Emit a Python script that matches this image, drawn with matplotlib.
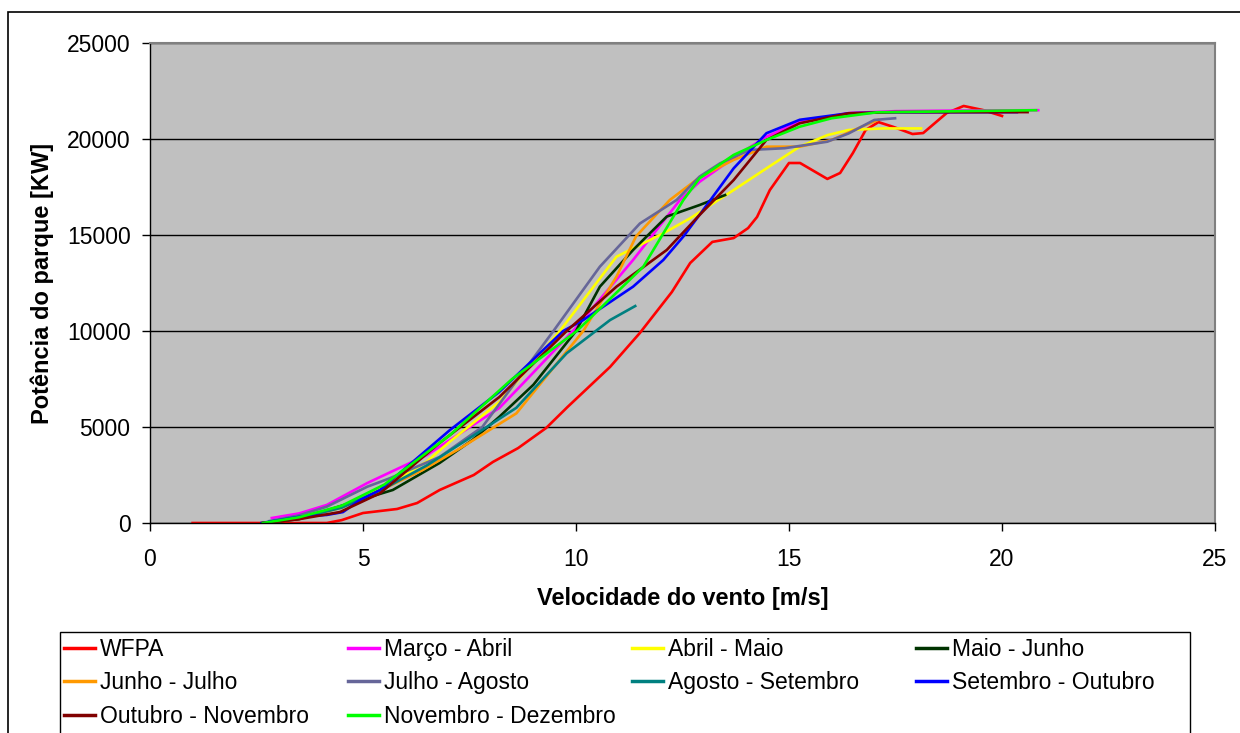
import matplotlib
matplotlib.use('Agg')
import matplotlib.pyplot as plt
from matplotlib.patches import Rectangle

plt.rcParams['font.family'] = ['Liberation Sans', 'DejaVu Sans']

# series: (label, colour, x values, y values)
wfpa_x = [1, 4.15, 4.5, 5.0, 5.8, 6.27, 6.8, 7.6, 8.05, 8.64, 9.3, 9.8, 10.8, 11.5, 12.25,
          12.68, 13.2, 13.7, 14.04, 14.25, 14.55, 15.0, 15.26, 15.9, 16.2, 16.5, 16.8, 17.1,
          17.45, 17.9, 18.15, 18.7, 19.1, 19.55, 20.0]
wfpa_y = [0, 0, 150, 520, 730, 1040, 1720, 2500, 3180, 3900, 4950, 6040, 8130, 9900, 12030,
          13540, 14640, 14840, 15360, 15940, 17340, 18750, 18750, 17920, 18230, 19270, 20470, 20880,
          20630, 20260, 20310, 21350, 21720, 21510, 21200]

marco_x = [2.86, 3.5, 4.15, 5.1, 6.0, 6.5, 7.04, 8.2, 8.76, 10.02, 11.34, 12.44, 12.9, 13.85,
           14.47, 15.25, 16.4, 17.5, 19.0, 20.85]
marco_y = [260, 500, 940, 2080, 3020, 3540, 4320, 5990, 7280, 10220, 13700, 16820, 17770, 19250,
           20120, 20900, 21350, 21450, 21480, 21500]

abril_x = [2.65, 3.5, 4.5, 5.5, 6.5, 7.04, 8.2, 9.62, 10.95, 12.05, 12.68, 13.7, 14.47, 15.25,
           15.9, 16.4, 17.2, 18.1]
abril_y = [0, 300, 800, 1900, 3200, 4240, 6300, 10000, 13870, 15090, 15870, 17340, 18470, 19600,
           20200, 20470, 20550, 20550]

maio_x = [2.65, 3.5, 4.93, 5.7, 6.8, 7.58, 8.2, 9.0, 10.0, 10.56, 11.34, 12.13, 12.9, 13.5]
maio_y = [0, 200, 1200, 1720, 3130, 4340, 5530, 7200, 10000, 12310, 14220, 15960, 16560, 17080]

junho_x = [2.7, 3.5, 4.5, 5.5, 6.4, 7.28, 8.6, 10.17, 10.95, 11.41, 12.2, 12.9, 13.7, 14.47,
           15.25, 16.0, 16.8, 17.1]
junho_y = [0, 250, 800, 1800, 2760, 3890, 5710, 10000, 12830, 14930, 16820, 18000, 18910, 19600,
           19600, 19950, 20730, 21000]

julho_x = [2.8, 3.5, 4.15, 5.1, 5.63, 6.8, 7.8, 9.47, 10.56, 11.5, 12.36, 12.9, 13.38, 14.08,
           14.9, 15.9, 16.4, 17.0, 17.49]
julho_y = [100, 400, 850, 1890, 2330, 3440, 5000, 10000, 13350, 15600, 16820, 18040, 18730, 19430,
           19520, 19860, 20290, 20990, 21080]

agosto_x = [2.7, 3.5, 4.5, 5.5, 6.5, 7.43, 8.6, 9.78, 10.8, 11.39]
agosto_y = [0, 250, 800, 1800, 3000, 4320, 6000, 8840, 10570, 11300]

setembro_x = [2.62, 3.52, 4.15, 4.53, 4.93, 5.4, 7.04, 8.2, 9.7, 10.17, 11.34, 12.05, 12.52,
              13.05, 13.7, 14.47, 15.25, 16.4, 17.3, 20.35]
setembro_y = [0, 330, 420, 570, 1200, 1720, 4840, 6830, 10000, 10570, 12310, 13700, 14920,
              16500, 18470, 20300, 21000, 21340, 21390, 21400]

outubro_x = [2.65, 3.5, 4.46, 5.4, 6.8, 7.04, 8.2, 9.78, 10.95, 12.13, 12.9, 13.7, 14.47, 15.25,
             16.4, 17.5, 20.6]
outubro_y = [0, 200, 570, 1550, 4170, 4580, 6560, 10000, 12310, 14220, 16040, 17860, 19950, 20820,
             21340, 21400, 21400]

novembro_x = [2.65, 3.5, 4.5, 5.5, 7.04, 8.5, 10.02, 11.58, 12.52, 12.9, 13.7, 14.47, 15.25, 16.0,
              17.06, 20.8]
novembro_y = [0, 300, 900, 2000, 4580, 7500, 10000, 13350, 16820, 17950, 19170, 19950, 20640, 21080,
              21390, 21500]

series = [
    ('WFPA', '#FF0000', wfpa_x, wfpa_y),
    ('Março - Abril', '#FF00FF', marco_x, marco_y),
    ('Abril - Maio', '#FFFF00', abril_x, abril_y),
    ('Maio - Junho', '#003300', maio_x, maio_y),
    ('Junho - Julho', '#FF9900', junho_x, junho_y),
    ('Julho - Agosto', '#666699', julho_x, julho_y),
    ('Agosto - Setembro', '#008080', agosto_x, agosto_y),
    ('Setembro - Outubro', '#0000FF', setembro_x, setembro_y),
    ('Outubro - Novembro', '#800000', outubro_x, outubro_y),
    ('Novembro - Dezembro', '#00FF00', novembro_x, novembro_y),
]

W, H = 1240, 733
fig = plt.figure(figsize=(W / 100, H / 100), dpi=100)
ax = fig.add_axes([150 / W, 1 - 523 / H, 1065 / W, 480 / H])
ax.set_facecolor('#C0C0C0')

lines = []
for label, color, xs, ys in series:
    ln, = ax.plot(xs, ys, color=color, lw=1.9, label=label, solid_joinstyle='round')
    lines.append(ln)

ax.set_xlim(0, 25)
ax.set_ylim(0, 25000)
ax.set_xticks(range(0, 26, 5))
ax.set_yticks(range(0, 25001, 5000))
ax.yaxis.grid(True, color='black', lw=1.0)
ax.set_axisbelow(True)

for s in ['left', 'bottom']:
    ax.spines[s].set_color('black')
    ax.spines[s].set_linewidth(1.0)
for s in ['top', 'right']:
    ax.spines[s].set_color('#808080')
    ax.spines[s].set_linewidth(1.5)

ax.tick_params(axis='both', direction='out', length=6, width=1, labelsize=16.5, color='black')
ax.tick_params(axis='x', pad=12)
ax.tick_params(axis='y', pad=8)

ax.set_xlabel('Velocidade do vento [m/s]', fontsize=17, fontweight='bold')
ax.set_ylabel('Potência do parque [KW]', fontsize=17, fontweight='bold')
ax.xaxis.set_label_coords(0.5, -0.133)
ax.yaxis.set_label_coords(-0.090, 0.5)

# legend: four columns filled row by row, one legend per column
ncol = 4
for c in range(ncol):
    idx = list(range(c, len(lines), ncol))
    leg = fig.legend([lines[i] for i in idx], [series[i][0] for i in idx],
                     loc='upper left', bbox_to_anchor=((64 + 284 * c) / W, 1 - 638 / H),
                     fontsize=16.5, frameon=False, handlelength=1.35, handletextpad=0.22,
                     labelspacing=0.45, borderpad=0, borderaxespad=0)
    for line in leg.get_lines():
        line.set_linewidth(2.5)

fig.patches.append(Rectangle((60 / W, -0.1), 1130 / W, 0.1 + 1 - 632 / H,
                             transform=fig.transFigure, fill=False, edgecolor='black', lw=1.0))

# outer chart border (cut off at right and bottom in the original)
fig.patches.append(Rectangle((8 / W, -0.1), 1.2, 1.1 - 12 / H, transform=fig.transFigure,
                             fill=False, edgecolor='black', lw=1.2))

fig.savefig('out.png', dpi=100)
